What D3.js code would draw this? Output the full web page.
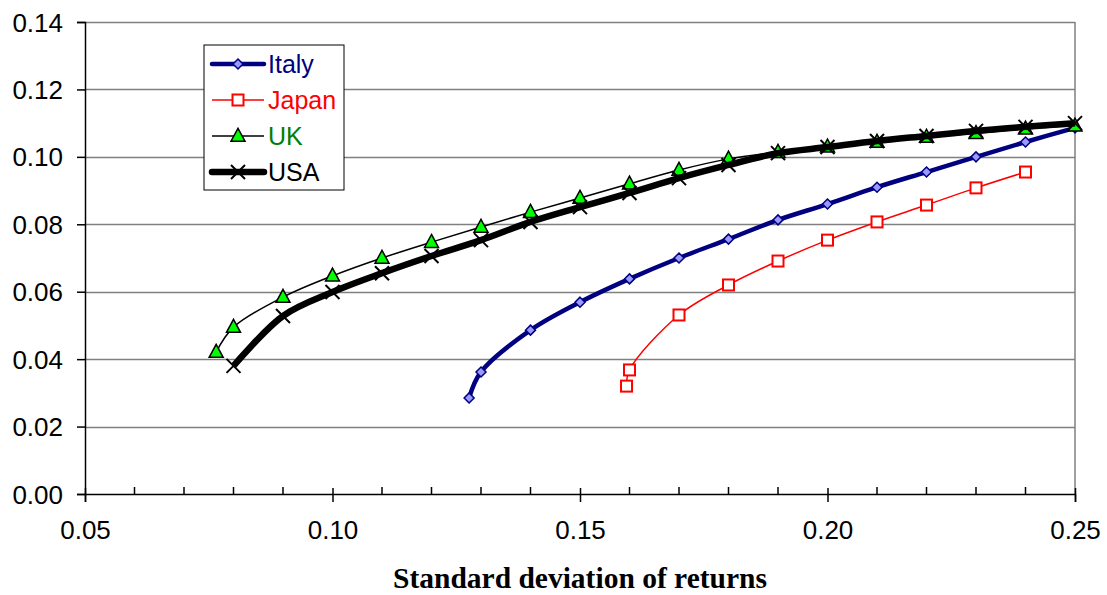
<!DOCTYPE html>
<html>
<head>
<meta charset="utf-8">
<script src="https://cdn.jsdelivr.net/npm/d3@7"></script>
<style>
  body { margin: 0; background: #fff; }
  svg { display: block; }
</style>
</head>
<body>
<div id="chart"></div>
<script>
// data
const series_names = ["Italy", "Japan", "UK", "USA"];
const italy_x = [0.1276, 0.13, 0.14, 0.15, 0.16, 0.17, 0.18, 0.19, 0.20, 0.21, 0.22, 0.23, 0.24, 0.25];
const italy_y = [0.0285, 0.0362, 0.0486, 0.0569, 0.0638, 0.0700, 0.0756, 0.0813, 0.0860, 0.0910, 0.0955, 0.1000, 0.1044, 0.1086];
const japan_x = [0.1594, 0.16, 0.17, 0.18, 0.19, 0.20, 0.21, 0.22, 0.23, 0.24];
const japan_y = [0.0320, 0.0368, 0.0531, 0.0620, 0.0691, 0.0753, 0.0807, 0.0857, 0.0908, 0.0955];
const uk_x = [0.0765, 0.08, 0.09, 0.10, 0.11, 0.12, 0.13, 0.14, 0.15, 0.16, 0.17, 0.18, 0.19, 0.20, 0.21, 0.22, 0.23, 0.24, 0.25];
const uk_y = [0.0421, 0.0495, 0.0584, 0.0647, 0.0700, 0.0747, 0.0792, 0.0836, 0.0878, 0.0920, 0.0961, 0.0994, 0.1014, 0.1030, 0.1044, 0.1059, 0.1070, 0.1083, 0.1092];
const usa_x = [0.08, 0.09, 0.10, 0.11, 0.12, 0.13, 0.14, 0.15, 0.16, 0.17, 0.18, 0.19, 0.20, 0.21, 0.22, 0.23, 0.24, 0.25];
const usa_y = [0.0380, 0.0528, 0.0599, 0.0655, 0.0706, 0.0753, 0.0807, 0.0851, 0.0893, 0.0937, 0.0976, 0.1011, 0.1029, 0.1047, 0.1062, 0.1077, 0.1089, 0.1100];
const x_ticks = [0.05, 0.10, 0.15, 0.20, 0.25];
const x_minor = [0.06, 0.07, 0.08, 0.09, 0.11, 0.12, 0.13, 0.14, 0.16, 0.17, 0.18, 0.19, 0.21, 0.22, 0.23, 0.24];
const y_ticks = [0.00, 0.02, 0.04, 0.06, 0.08, 0.10, 0.12, 0.14];

const svgwidth = 1107;
const svgheight = 595;
const margin = {top: 22, bottom: 101, left: 85, right: 32};
const tick_font = "'Liberation Sans', Arial, sans-serif";
const tick_size = "26px";

const xScale = d3.scaleLinear().domain([0.05, 0.25]).range([margin.left, svgwidth - margin.right]);
const yScale = d3.scaleLinear().domain([0, 0.14]).range([svgheight - margin.bottom, margin.top]);

const zip = (xs, ys) => xs.map((x, i) => ({x: x, y: ys[i]}));

// style per series
const styles = {
    Italy: {data: zip(italy_x, italy_y), color: "#000080", width: 4.5, marker: "diamond", mfill: "#9999ff", mstroke: "#000080", label: "#000080"},
    Japan: {data: zip(japan_x, japan_y), color: "#ff0000", width: 1.5, marker: "square", mfill: "#ffffff", mstroke: "#ff0000", label: "#ff0000"},
    UK:    {data: zip(uk_x, uk_y), color: "#000000", width: 1.5, marker: "triangle", mfill: "#00ff00", mstroke: "#000000", label: "#008000"},
    USA:   {data: zip(usa_x, usa_y), color: "#000000", width: 6.5, marker: "cross", mfill: "none", mstroke: "#000000", label: "#000000"}
};

let svg = d3.select("#chart").append("svg")
    .attr("width", svgwidth)
    .attr("height", svgheight);

// gridlines
svg.append("g").attr("class", "grid")
    .selectAll("line")
    .data(y_ticks.filter(d => d > 0))
    .enter().append("line")
    .attr("x1", margin.left).attr("x2", svgwidth - margin.right)
    .attr("y1", d => Math.round(yScale(d)) + 0.5).attr("y2", d => Math.round(yScale(d)) + 0.5)
    .attr("stroke", "#808080").attr("stroke-width", 1.5);
// right border
svg.append("line")
    .attr("x1", svgwidth - margin.right).attr("x2", svgwidth - margin.right)
    .attr("y1", margin.top).attr("y2", yScale(0))
    .attr("stroke", "#808080").attr("stroke-width", 1.5);

// y axis
let yAxis = d3.axisLeft(yScale).tickValues(y_ticks).tickFormat(d3.format(".2f")).tickSize(8).tickPadding(14);
let y_ax = svg.append("g").call(yAxis)
    .attr("transform", `translate(${margin.left},0)`)
    .attr("font-size", null)
    .attr("font-family", null)
    .style("font-size", tick_size)
    .style("font-family", tick_font);
y_ax.select(".domain").attr("stroke", "#000").attr("stroke-width", 1.5);
y_ax.selectAll("line").attr("stroke", "#000").attr("stroke-width", 1.5);
y_ax.selectAll("text").attr("fill", "#000").attr("dy", "0.35em");

// x axis
let xAxis = d3.axisBottom(xScale).tickValues(x_ticks).tickFormat(d3.format(".2f")).tickSize(8).tickPadding(19);
let x_ax = svg.append("g").call(xAxis)
    .attr("transform", `translate(0,${yScale(0)})`)
    .attr("font-size", null)
    .attr("font-family", null)
    .style("font-size", tick_size)
    .style("font-family", tick_font);
x_ax.select(".domain").attr("stroke", "#000").attr("stroke-width", 1.5);
x_ax.selectAll(".tick line").attr("y1", -6).attr("stroke", "#000").attr("stroke-width", 1.5);
x_ax.selectAll("text").attr("fill", "#000");
// minor ticks pointing up
x_ax.selectAll(".minor")
    .data(x_minor)
    .enter().append("line")
    .attr("class", "minor")
    .attr("x1", d => xScale(d)).attr("x2", d => xScale(d))
    .attr("y1", 0).attr("y2", -7)
    .attr("stroke", "#000").attr("stroke-width", 1.5);

// x axis title
svg.append("text")
    .text("Standard deviation of returns")
    .attr("x", (margin.left + svgwidth - margin.right) / 2)
    .attr("y", 588)
    .attr("text-anchor", "middle")
    .style("font-family", "'Liberation Serif', 'Times New Roman', serif")
    .style("font-weight", "bold")
    .style("font-size", "29.5px");

// markers
function drawMarker(g, type, s, fill, stroke) {
    if (type === "diamond") {
        g.append("path").attr("d", `M0,${-s}L${s},0L0,${s}L${-s},0Z`)
            .attr("fill", fill).attr("stroke", stroke).attr("stroke-width", 1.5);
    } else if (type === "square") {
        g.append("rect").attr("x", -s).attr("y", -s).attr("width", 2 * s).attr("height", 2 * s)
            .attr("fill", fill).attr("stroke", stroke).attr("stroke-width", 2);
    } else if (type === "triangle") {
        g.append("path").attr("d", `M0,${-s * 1.1}L${s},${s * 0.75}L${-s},${s * 0.75}Z`)
            .attr("fill", fill).attr("stroke", stroke).attr("stroke-width", 1.5);
    } else if (type === "cross") {
        g.append("path").attr("d", `M${-s},${-s}L${s},${s}M${s},${-s}L${-s},${s}`)
            .attr("fill", "none").attr("stroke", stroke).attr("stroke-width", 2);
    }
}
const marker_size = {diamond: 5, square: 5.5, triangle: 7, cross: 7};

let line = d3.line()
    .x(d => xScale(d.x))
    .y(d => yScale(d.y))
    .curve(d3.curveCatmullRom.alpha(0.5));

let plot = svg.append("g").attr("class", "series");
series_names.forEach(name => {
    let st = styles[name];
    let g = plot.append("g").attr("class", name);
    g.append("path")
        .datum(st.data)
        .attr("d", line)
        .attr("fill", "none")
        .attr("stroke", st.color)
        .attr("stroke-width", st.width)
        .attr("stroke-linejoin", "round");
    g.selectAll(".pt")
        .data(st.data)
        .enter().append("g")
        .attr("class", "pt")
        .attr("transform", d => `translate(${xScale(d.x)},${yScale(d.y)})`)
        .each(function () { drawMarker(d3.select(this), st.marker, marker_size[st.marker], st.mfill, st.mstroke); });
});

// legend
let legend = svg.append("g").attr("class", "legend").attr("transform", "translate(204,45)");
legend.append("rect")
    .attr("x", 0).attr("y", 0).attr("width", 140).attr("height", 145)
    .attr("fill", "#fff").attr("stroke", "#000").attr("stroke-width", 1);
series_names.forEach((name, i) => {
    let st = styles[name];
    let row = legend.append("g").attr("transform", `translate(0,${19 + i * 36})`);
    row.append("line")
        .attr("x1", 8).attr("x2", 60).attr("y1", 0).attr("y2", 0)
        .attr("stroke", st.color).attr("stroke-width", st.width)
        .attr("stroke-linecap", st.width > 3 ? "round" : "butt");
    let m = row.append("g").attr("transform", "translate(34,0)");
    drawMarker(m, st.marker, marker_size[st.marker], st.mfill, st.mstroke);
    row.append("text")
        .text(name)
        .attr("x", 64)
        .attr("y", 0)
        .attr("dy", "0.35em")
        .attr("fill", st.label)
        .style("font-family", tick_font)
        .style("font-size", "25px");
});
</script>
</body>
</html>
